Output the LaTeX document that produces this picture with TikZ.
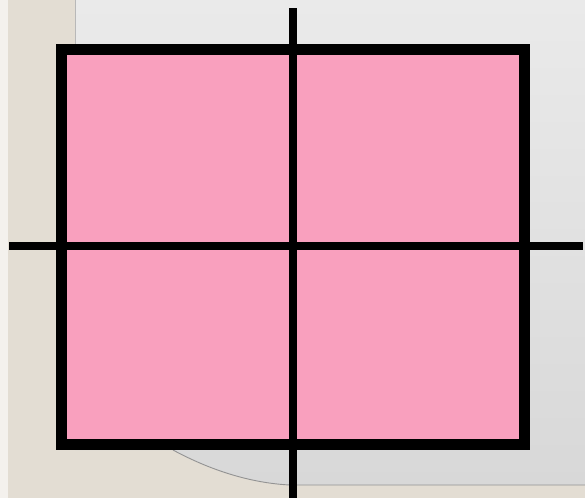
\documentclass[tikz,border=0pt]{standalone}
\begin{document}
\begin{tikzpicture}[x=1pt,y=-1pt,
  crossline/.style={line width=7.5pt,black},
  frame/.style={line width=11pt,black,fill=pinkfill}]
\definecolor{beige}{HTML}{E3DDD3}
\definecolor{paneltop}{HTML}{EAEAEA}
\definecolor{panelbot}{HTML}{D8D8D8}
\definecolor{pinkfill}{HTML}{F9A0BE}
\definecolor{edgegray}{HTML}{B8B8B8}
\useasboundingbox (0,0) rectangle (585,498);
% background
\fill[beige] (0,0) rectangle (585,498);
\fill[white!60!beige] (0,0) rectangle (8,498);
% panel
\shade[top color=paneltop,bottom color=panelbot]
  (75,0) -- (585,0) -- (585,485) -- (290,485)
  .. controls (250,483) and (210,470) .. (173,450) -- (75,450) -- cycle;
\draw[edgegray,line width=1pt] (75,0) -- (75,450);
\draw[edgegray!80!black,line width=0.9pt] (585,485) -- (290,485)
  .. controls (250,483) and (210,470) .. (173,450);
% square
\node[frame,draw,minimum width=463pt,minimum height=395pt,inner sep=0pt,anchor=north west] (sq) at (55.5,43.5) {};
\coordinate (top) at (293,8);
\coordinate (bot) at (293,498);
\coordinate (lft) at (9,246);
\coordinate (rgt) at (583,246);
\draw[crossline] (top) -- (bot);
\draw[crossline] (lft) -- (rgt);
\end{tikzpicture}
\end{document}
